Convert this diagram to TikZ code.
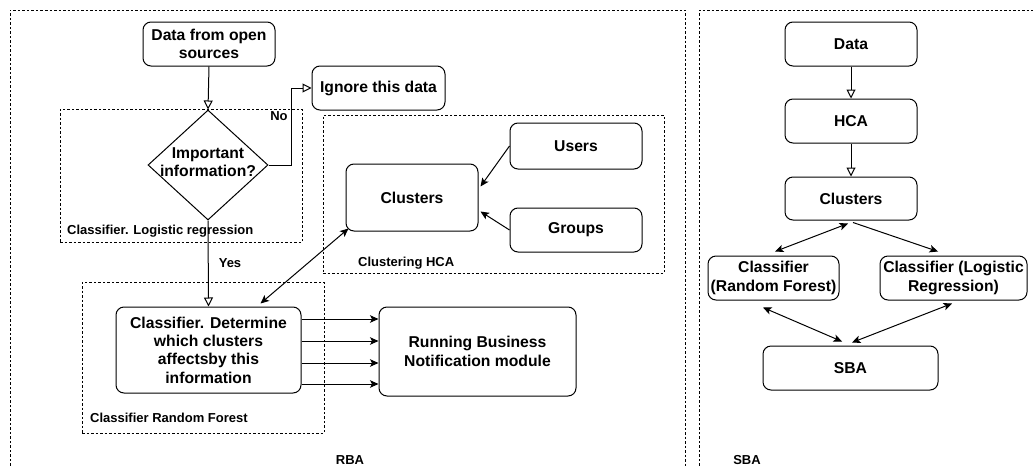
\documentclass[tikz,border=0pt]{standalone}
\usepackage{fontspec}
\setmainfont{Liberation Sans}
\usetikzlibrary{shapes.geometric,arrows.meta,calc}
\begin{document}
\begin{tikzpicture}[x=1pt,y=-1pt,
 box/.style={draw, rounded corners=8pt, line width=1pt, align=center, font=\bfseries\fontsize{15.7}{18.3}\selectfont, inner sep=1pt},
 grp/.style={draw, line width=0.8pt, dash pattern=on 2.5pt off 2pt},
 lab/.style={font=\bfseries\fontsize{13}{15}\selectfont, inner sep=0pt},
 flow/.style={line width=1pt, -{Triangle[open, length=9pt, width=9pt]}},
 arr/.style={line width=1pt, -{Stealth[length=8.5pt, width=7.5pt, inset=2pt]}},
 darr/.style={line width=1pt, {Stealth[length=8.5pt, width=7.5pt, inset=2pt]}-{Stealth[length=8.5pt, width=7.5pt, inset=2pt]}},
]
\useasboundingbox (0,0) rectangle (1033,466);
\fill[white] (0,0) rectangle (1033,466);

% outer frames
\draw[grp] (10,470) -- (10,10) -- (685,10) -- (685,470);
\draw[grp] (699,470) -- (699,10) -- (1036,10);
\node[lab] (rbalab) at (350,460) {RBA};
\node[lab] (sbalab) at (747,460) {SBA};

% group frames
\node[grp, minimum width=242pt, minimum height=133pt, inner sep=0pt] (glog) at (181,175.5) {};
\node[grp, minimum width=341pt, minimum height=158pt, inner sep=0pt] (ghca) at (493.5,194) {};
\node[grp, minimum width=242pt, minimum height=151pt, inner sep=0pt] (grf) at (203,357.5) {};
\node[lab, anchor=west] (loglab) at (67,231) {Classifier. Logistic regression};
\node[lab, anchor=west] (hcalab) at (358,263) {Clustering HCA};
\node[lab, anchor=west] (rflab) at (90,418) {Classifier Random Forest};

% RBA nodes
\node[box, minimum width=132pt, minimum height=44pt] (src) at (209,44) {Data from open\\sources};
\node[box, minimum width=133pt, minimum height=44pt] (ign) at (378.5,88) {Ignore this data};
\node[draw, diamond, line width=1pt, minimum width=120pt, minimum height=110pt, inner sep=0pt,
  label={[align=center, font=\bfseries\fontsize{15.7}{18.3}\selectfont, yshift=2.5pt]center:Important\\information?}] (dia) at (208,165) {};
\node[box, minimum width=132pt, minimum height=67pt] (clu) at (412,197.5) {Clusters};
\node[box, minimum width=132pt, minimum height=46pt] (usr) at (576,146) {Users};
\node[box, minimum width=132pt, minimum height=44pt] (grps) at (576,230) {Groups};
\node[box, minimum width=185pt, minimum height=86pt] (cls) at (208.5,350) {Classifier. Determine\\which clusters\\affectsby this\\information};
\node[box, minimum width=197pt, minimum height=89pt] (run) at (477.5,351.5) {Running Business\\Notification module};
\node[lab] (nolab) at (279,116) {No};
\node[lab] (yeslab) at (230,263) {Yes};

% RBA connectors
\draw[flow] (src.south) -- (dia.north);
\draw[flow] (dia.east) -- ++(23,0) |- (ign.west);
\draw[flow] (dia.south) -- (cls.north);
\draw[arr] (usr.west) -- ($(clu.east)+(2,-11)$);
\draw[arr] (grps.west) -- ($(clu.east)+(2,14)$);
\draw[darr] ($(clu.south west)+(3,-3)$) -- ($(cls.north)+(52,-3)$);
\draw[arr] ($(cls.east)+(0,-31)$) -- ($(run.west)+(0,-32.5)$);
\draw[arr] ($(cls.east)+(0,-9)$) -- ($(run.west)+(0,-10.5)$);
\draw[arr] ($(cls.east)+(0,13)$) -- ($(run.west)+(0,11.5)$);
\draw[arr] ($(cls.east)+(0,34)$) -- ($(run.west)+(0,32.5)$);

% SBA nodes
\node[box, minimum width=132pt, minimum height=44pt] (data2) at (851,44) {Data};
\node[box, minimum width=132pt, minimum height=44pt] (hca) at (851,121) {HCA};
\node[box, minimum width=132pt, minimum height=43pt] (clu2) at (851,198.5) {Clusters};
\node[box, minimum width=131pt, minimum height=44pt] (rf) at (773.5,278) {Classifier\\(Random Forest)};
\node[box, minimum width=147pt, minimum height=44pt] (lr) at (953.5,278) {Classifier (Logistic\\Regression)};
\node[box, minimum width=175pt, minimum height=44pt] (sba) at (850.5,368) {SBA};

% SBA connectors
\draw[flow] (data2.south) -- (hca.north);
\draw[flow] (hca.south) -- (clu2.north);
\draw[darr] ($(clu2.south)+(-3,3)$) -- ($(rf.north)+(1.5,-4)$);
\draw[arr] ($(clu2.south)+(2,2)$) -- ($(lr.north)+(-15.5,-4)$);
\draw[darr] ($(rf.south)+(-10.5,7)$) -- ($(sba.north)+(-8.5,-4)$);
\draw[darr] ($(lr.south)+(-1.5,3)$) -- ($(sba.north)+(1.5,-3)$);
\end{tikzpicture}
\end{document}
